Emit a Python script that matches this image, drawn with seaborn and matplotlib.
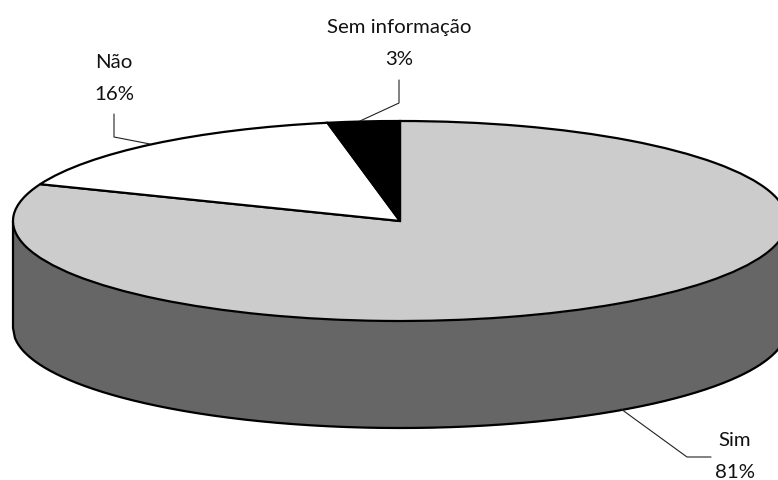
import numpy as np
import matplotlib
matplotlib.use("Agg")
import matplotlib.pyplot as plt
import seaborn as sns

labels = ["Sim", "Não", "Sem informação"]
values = [81, 16, 3]
colors = ["#cccccc", "#ffffff", "#000000"]
side_color = "#666666"

# pie geometry in pixels, the axes are squashed to get the ellipse
cx, cy = 400, 221
rx, ry = 387, 100
depth = 107 / ry

sns.set_theme(style="white")
plt.rcParams['font.family'] = ['Lato', 'DejaVu Sans']

fig = plt.figure(figsize=(7.78, 4.8), dpi=100)
ax = fig.add_axes([0, 0, 1, 1])


def px(x, y):
    return (x - cx) / rx, (cy - y) / ry


# side wall of the disc
t = np.linspace(-1, 1, 400)
ax.fill_between(t, -np.sqrt(1 - t**2), -np.sqrt(1 - t**2) - depth,
                color=side_color, lw=0, zorder=1)
ax.plot(t, -np.sqrt(1 - t**2) - depth, color="black", lw=1.6, zorder=2)
ax.plot([-1, -1], [0, -depth], color="black", lw=1.6, zorder=2)
ax.plot([1, 1], [0, -depth], color="black", lw=1.6, zorder=2)

# top face
ax.pie(values, colors=sns.color_palette(colors), startangle=90, counterclock=False,
       radius=1, wedgeprops=dict(edgecolor="black", linewidth=1.6, zorder=3))

ax.set_aspect("auto")
ax.set_xlim((0 - cx) / rx, (778 - cx) / rx)
ax.set_ylim((cy - 480) / ry, cy / ry)
ax.axis("off")

# leader lines
leaders = [
    [(621, 409), (687, 457), (711, 457)],
    [(114, 114), (114, 137), (150, 144)],
    [(399, 80), (399, 103), (360, 121)],
]
for pts in leaders:
    xy = np.array([px(*p) for p in pts])
    ax.plot(xy[:, 0], xy[:, 1], color="#222222", lw=0.8, zorder=4)

# slice labels, anchored on the baseline of the last line
label_pos = [(735, 478), (114, 100), (399, 65)]
for name, val, pos in zip(labels, values, label_pos):
    x, y = px(*pos)
    ax.text(x, y, f"{name}\n{val}%", ha="center", va="baseline", fontsize=14.7,
            color="#111111", linespacing=2.05, zorder=5)

fig.savefig("out.png", dpi=100)
